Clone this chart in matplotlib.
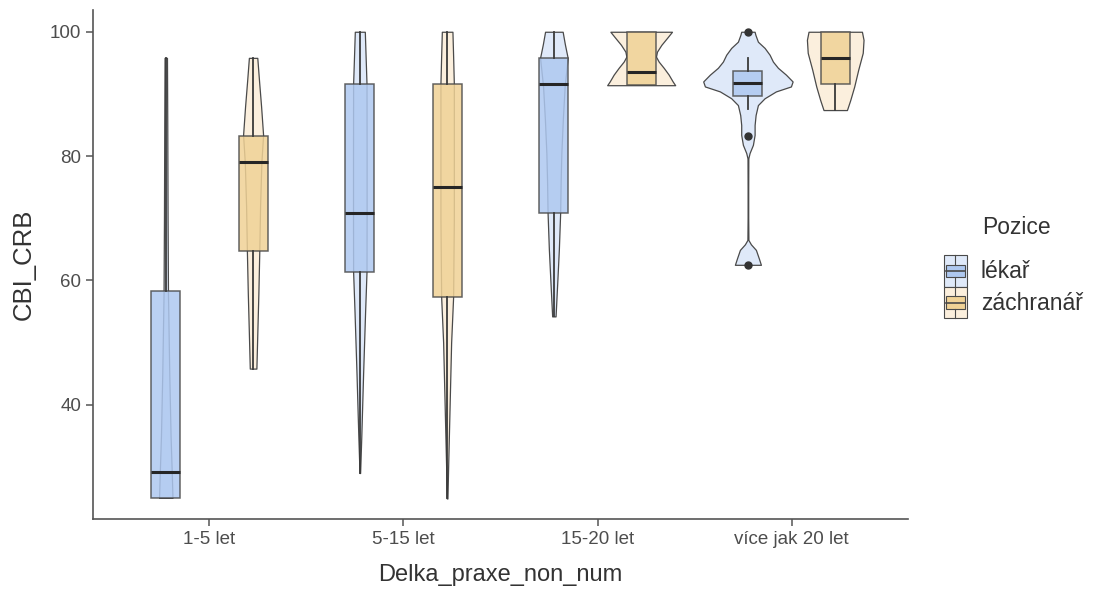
import numpy as np
import matplotlib
matplotlib.use("Agg")
import matplotlib.pyplot as plt
from matplotlib.legend_handler import HandlerBase
from matplotlib.patches import Patch, Rectangle
from matplotlib.lines import Line2D

categories = ["1-5 let", "5-15 let", "15-20 let", "více jak 20 let"]
groups = ["lékař", "záchranář"]

# box statistics per category
lekar_q1 = [25.0, 61.4, 70.9, 89.6]
lekar_med = [29.2, 70.9, 91.6, 91.7]
lekar_q3 = [58.3, 91.6, 95.8, 93.7]
lekar_lo = [25.0, 29.0, 54.2, 87.5]
lekar_hi = [95.8, 100.0, 100.0, 95.7]
lekar_out = [[], [], [], [100.0, 83.3, 62.5]]

zach_q1 = [64.7, 57.4, 91.4, 91.6]
zach_med = [79.1, 75.0, 93.6, 95.8]
zach_q3 = [83.3, 91.6, 100.0, 100.0]
zach_lo = [45.8, 24.9, 91.4, 87.4]
zach_hi = [95.8, 100.0, 100.0, 100.0]
zach_out = [[], [], [], []]

# violin density profiles (score, relative density)
lekar_vy = [
    [25.0, 29.0, 35.0, 45.0, 58.0, 70.0, 85.0, 95.8],
    [29.0, 35.0, 45.0, 55.0, 61.4, 70.0, 80.0, 91.6, 96.0, 100.0],
    [54.2, 60.0, 65.0, 70.9, 76.0, 80.5, 86.0, 91.2, 95.8, 98.0, 100.0],
    [62.5, 63.5, 64.9, 65.8, 66.5, 70.0, 75.0, 79.5, 79.7, 80.5, 81.8, 83.4,
     85.0, 86.6, 88.2, 89.3, 90.4, 91.2, 92.0, 93.1, 94.2, 95.2, 96.3, 97.4,
     98.4, 99.5, 100.0],
]
lekar_vd = [
    [6.7, 6.0, 4.8, 3.5, 2.2, 1.8, 1.5, 1.2],
    [0.3, 1.5, 3.3, 5.3, 6.7, 6.8, 6.8, 6.7, 5.8, 5.0],
    [1.7, 3.5, 5.0, 6.3, 6.8, 7.5, 9.0, 10.8, 13.8, 11.0, 8.8],
    [13.0, 11.0, 8.0, 3.0, 0.5, 0.3, 0.3, 0.4, 0.5, 1.7, 5.0, 6.7,
     6.7, 7.7, 10.0, 16.7, 28.0, 43.0, 44.7, 38.0, 30.0, 25.0, 21.7, 16.7,
     10.0, 7.5, 6.7],
]
zach_vy = [
    [45.8, 52.0, 58.0, 64.7, 72.0, 79.0, 83.4, 88.0, 92.0, 95.8],
    [24.9, 30.0, 40.0, 50.0, 57.4, 70.0, 80.0, 91.6, 96.0, 100.0],
    [91.4, 92.0, 93.1, 94.2, 95.2, 96.0, 96.8, 97.9, 99.0, 100.0],
    [87.4, 89.0, 91.2, 93.9, 96.6, 98.7, 100.0],
]
zach_vd = [
    [3.3, 4.3, 5.3, 6.2, 7.0, 8.3, 10.0, 8.0, 6.0, 4.2],
    [0.3, 1.0, 2.5, 4.0, 6.0, 6.7, 6.7, 6.7, 6.0, 5.3],
    [34.0, 31.5, 27.5, 22.5, 17.5, 14.8, 15.8, 20.2, 25.8, 30.8],
    [11.7, 15.0, 19.0, 23.0, 27.5, 28.3, 26.7],
]

violin_fill = {"lékař": "#dfe9f9", "záchranář": "#fbefdd"}
box_fill = {"lékař": "#aec8f0", "záchranář": "#f0d296"}
edge = "#4a4a4a"
dodge = 0.225
dens_unit = 1 / 194.0


class ViolinBoxKey(HandlerBase):
    def __init__(self, vcol, bcol):
        super().__init__()
        self.vcol = vcol
        self.bcol = bcol

    def create_artists(self, legend, orig_handle, xdescent, ydescent,
                       width, height, fontsize, trans):
        x0, y0 = -xdescent, -ydescent
        cx = x0 + width / 2
        outer = Rectangle((x0, y0), width, height, fc=self.vcol, ec=edge,
                          lw=0.8, transform=trans)
        box = Rectangle((x0 + width * 0.08, y0 + height * 0.3), width * 0.84,
                        height * 0.4, fc=self.bcol, ec=edge, lw=0.8,
                        transform=trans)
        med = Line2D([x0 + width * 0.08, x0 + width * 0.92],
                     [y0 + height / 2] * 2, color=edge, lw=1.2,
                     transform=trans)
        w1 = Line2D([cx, cx], [y0, y0 + height * 0.3], color=edge, lw=0.8,
                    transform=trans)
        w2 = Line2D([cx, cx], [y0 + height * 0.7, y0 + height], color=edge,
                    lw=0.8, transform=trans)
        return [outer, box, med, w1, w2]


plt.rcParams["font.family"] = ["Liberation Sans Narrow", "Liberation Sans", "DejaVu Sans"]

fig = plt.figure(figsize=(10.94, 6.12), dpi=100)
ax = fig.add_axes([93 / 1094, 93 / 612, (908 - 93) / 1094, (519 - 10) / 612])

series = [
    ("lékař", -dodge, lekar_q1, lekar_med, lekar_q3, lekar_lo, lekar_hi,
     lekar_out, lekar_vy, lekar_vd),
    ("záchranář", dodge, zach_q1, zach_med, zach_q3, zach_lo, zach_hi,
     zach_out, zach_vy, zach_vd),
]

xs = np.arange(1, len(categories) + 1)
for name, off, q1, med, q3, lo, hi, out, vy, vd in series:
    pos = xs + off
    vstats = []
    widths = []
    for ys, ds in zip(vy, vd):
        ys = np.array(ys)
        ds = np.array(ds)
        vstats.append(dict(coords=ys, vals=ds, mean=ys.mean(),
                           median=np.median(ys), min=ys.min(), max=ys.max()))
        widths.append(2 * ds.max() * dens_unit)
    parts = ax.violin(vstats, positions=pos, widths=widths, showmeans=False,
                      showextrema=False, showmedians=False)
    for body in parts["bodies"]:
        body.set_facecolor(violin_fill[name])
        body.set_edgecolor(edge)
        body.set_linewidth(0.9)
        body.set_alpha(1)
        body.set_zorder(1)

    bstats = [dict(q1=a, med=b, q3=c, whislo=d, whishi=e, fliers=f)
              for a, b, c, d, e, f in zip(q1, med, q3, lo, hi, out)]
    ax.bxp(bstats, positions=pos, widths=0.15, patch_artist=True,
           showcaps=False, manage_ticks=False, zorder=2,
           boxprops=dict(facecolor=box_fill[name], edgecolor=edge, lw=1.1,
                         alpha=0.85),
           whiskerprops=dict(color="#3a3a3a", lw=1.3),
           medianprops=dict(color="#262626", lw=2.2),
           flierprops=dict(marker="o", markersize=5, markerfacecolor="#333333",
                           markeredgecolor="#333333"))

ax.set_xlim(0.4, 4.6)
ax.set_ylim(21.6, 103.5)
ax.set_xticks(xs)
ax.set_xticklabels(categories)
ax.set_yticks([40, 60, 80, 100])
for s in ["top", "right"]:
    ax.spines[s].set_visible(False)
for s in ["left", "bottom"]:
    ax.spines[s].set_color("#555555")
    ax.spines[s].set_linewidth(1.2)
ax.tick_params(colors="#555555", labelcolor="#4d4d4d", labelsize=13.5,
               length=5, width=1.1)
ax.set_xlabel("Delka_praxe_non_num", fontsize=17, color="#333333", labelpad=12)
ax.set_ylabel("CBI_CRB", fontsize=18.5, color="#333333", labelpad=10)

handles = [Patch(label=g) for g in groups]
hmap = {h: ViolinBoxKey(violin_fill[g], box_fill[g]) for h, g in zip(handles, groups)}
fig.legend(handles=handles, handler_map=hmap, loc="upper left",
           bbox_to_anchor=(944 / 1094, 1 - 255 / 612), frameon=False,
           fontsize=16.5, labelspacing=0.0, handlelength=1.0,
           handleheight=1.75, handletextpad=0.6, borderpad=0,
           borderaxespad=0, labelcolor="#333333")
fig.text(982 / 1094, 1 - 227 / 612, "Pozice", fontsize=16.5, color="#333333",
         ha="left", va="center")

fig.savefig("out.png", dpi=100)
